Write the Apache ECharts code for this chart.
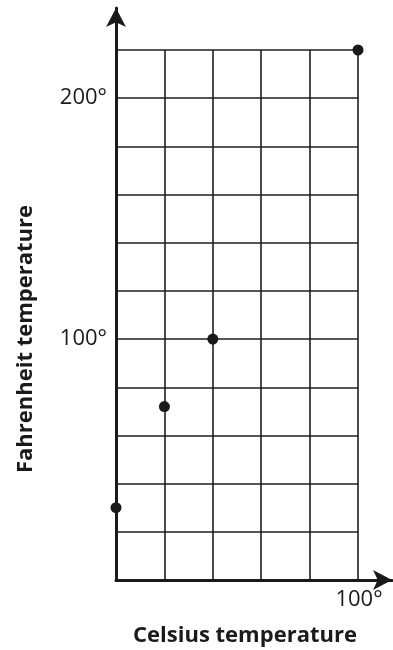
<!DOCTYPE html>
<html>
<head>
<meta charset="utf-8">
<script src="https://cdn.jsdelivr.net/npm/echarts@6/dist/echarts.min.js"></script>
<style>
html,body{margin:0;padding:0;background:#fff;}
#chart{width:393px;height:650px;}
</style>
</head>
<body>
<div id="chart"></div>
<script>
// Data
var celsius = [0, 20, 40, 100];
var fahrenheit = [30, 72, 100, 220];
var xLabelValues = [100];
var yLabelValues = [100, 200];
var xTitle = 'Celsius temperature';
var yTitle = 'Fahrenheit temperature';

var points = celsius.map(function (c, i) { return [c, fahrenheit[i]]; });
var ink = '#1a1a1a';
var gridInk = '#1e1e1e';
var font = '"Open Sans", "Noto Sans", sans-serif';

var chart = echarts.init(document.getElementById('chart'), null, {renderer: 'canvas'});
chart.setOption({
  backgroundColor: '#fff',
  animation: false,
  grid: [
    {left: 116, right: 35, top: 50, bottom: 70},
    {left: 116, right: 1, top: 8, bottom: 70}
  ],
  xAxis: [
    {
      gridIndex: 0, type: 'value', min: 0, max: 100, interval: 20,
      axisLine: {show: false}, axisTick: {show: false},
      splitLine: {show: true, lineStyle: {color: gridInk, width: 1.6}},
      axisLabel: {
        show: true, margin: 9, fontSize: 22, color: ink, fontFamily: font,
        padding: [0, 0, 0, 2],
        formatter: function (v) { return xLabelValues.indexOf(v) >= 0 ? v + '°' : ''; }
      }
    },
    {
      gridIndex: 1, type: 'value', min: 0, max: 1,
      axisLine: {show: true, symbol: ['none', 'arrow'], symbolSize: [15, 19],
        lineStyle: {color: ink, width: 3}},
      axisTick: {show: false}, axisLabel: {show: false}, splitLine: {show: false}
    }
  ],
  yAxis: [
    {
      gridIndex: 0, type: 'value', min: 0, max: 220, interval: 20,
      axisLine: {show: false}, axisTick: {show: false},
      splitLine: {show: true, lineStyle: {color: gridInk, width: 1.6}},
      axisLabel: {
        show: true, margin: 9, fontSize: 22, color: ink, fontFamily: font,
        formatter: function (v) { return yLabelValues.indexOf(v) >= 0 ? v + '°' : ''; }
      }
    },
    {
      gridIndex: 1, type: 'value', min: 0, max: 1,
      axisLine: {show: true, symbol: ['none', 'arrow'], symbolSize: [15, 19],
        lineStyle: {color: ink, width: 3}},
      axisTick: {show: false}, axisLabel: {show: false}, splitLine: {show: false}
    }
  ],
  series: [
    {
      type: 'scatter', xAxisIndex: 0, yAxisIndex: 0,
      data: points, symbol: 'circle', symbolSize: 11, clip: false, z: 10,
      itemStyle: {color: ink, opacity: 1}
    }
  ],
  graphic: [
    {
      type: 'text', x: 245, y: 636,
      style: {text: xTitle, font: 'bold 22px ' + font, fill: ink, align: 'center', verticalAlign: 'middle'}
    },
    {
      type: 'text', x: 26, y: 339, rotation: Math.PI / 2,
      style: {text: yTitle, font: 'bold 22px ' + font, fill: ink, align: 'center', verticalAlign: 'middle'}
    }
  ]
});
</script>
</body>
</html>
